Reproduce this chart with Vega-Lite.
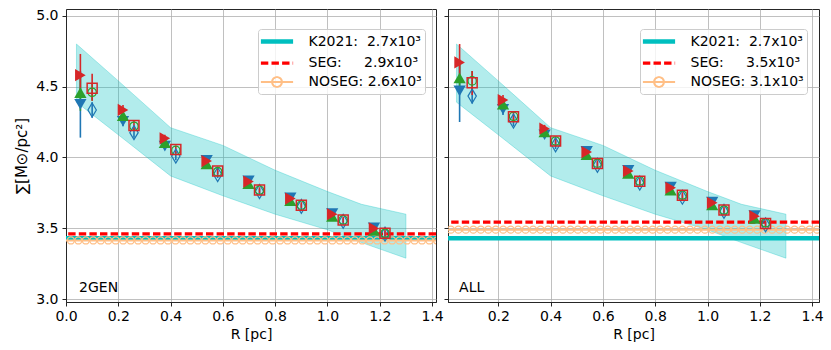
{
  "$schema": "https://vega.github.io/schema/vega-lite/v6.json",
  "background": "white",
  "padding": {"left": 14, "top": 8, "right": 5, "bottom": 5},
  "spacing": 12,
  "bounds": "flush",
  "config": {
    "font": "DejaVu Sans",
    "view": {"stroke": "#262626", "strokeWidth": 1},
    "axis": {
      "domainColor": "#262626", "domainWidth": 1, "tickColor": "#262626", "tickWidth": 1, "tickSize": 4,
      "labelColor": "#000000", "titleColor": "#000000", "labelFontSize": 14, "titleFontSize": 14,
      "titleFontWeight": "normal", "labelFont": "DejaVu Sans", "titleFont": "DejaVu Sans",
      "gridColor": "#b0b0b0", "gridWidth": 0.8, "labelFlush": false, "labelOverlap": false, "labelPadding": 3
    },
    "axisX": {"titlePadding": 4},
    "axisY": {"labelPadding": 4, "titlePadding": 6}
  },
  "datasets": {
    "band": [
      {"r": 0.04, "lo": 4.39, "hi": 4.80},
      {"r": 0.2, "lo": 4.16, "hi": 4.54},
      {"r": 0.4, "lo": 3.87, "hi": 4.21},
      {"r": 0.6, "lo": 3.73, "hi": 4.085},
      {"r": 0.8, "lo": 3.60, "hi": 3.91},
      {"r": 1.0, "lo": 3.49, "hi": 3.76},
      {"r": 1.13, "lo": 3.40, "hi": 3.67},
      {"r": 1.3, "lo": 3.29, "hi": 3.60}
    ],
    "lines": [
      {"p": "L", "s": "K2021:\u00a0\u00a02.7x10\u00b3", "y": 3.431},
      {"p": "L", "s": "SEG:\u00a0\u00a0\u00a0\u00a0\u00a02.9x10\u00b3", "y": 3.462},
      {"p": "L", "s": "NOSEG:\u00a02.6x10\u00b3", "y": 3.415},
      {"p": "R", "s": "K2021:\u00a0\u00a02.7x10\u00b3", "y": 3.431},
      {"p": "R", "s": "SEG:\u00a0\u00a0\u00a0\u00a0\u00a03.5x10\u00b3", "y": 3.544},
      {"p": "R", "s": "NOSEG:\u00a03.1x10\u00b3", "y": 3.491}
    ],
    "noseg": [
      {"p": "L", "y": 3.415, "xs": [0.0186,0.0472,0.0757,0.1043,0.1329,0.1615,0.19,0.2186,0.2472,0.2757,0.3043,0.3329,0.3615,0.39,0.4186,0.4472,0.4757,0.5043,0.5329,0.5615,0.59,0.6186,0.6472,0.6757,0.7043,0.7329,0.7615,0.79,0.8186,0.8472,0.8757,0.9043,0.9329,0.9615,0.99,1.0186,1.0472,1.0757,1.1043,1.1329,1.1615,1.19,1.2186,1.2472,1.2757,1.3043,1.3329,1.3615,1.39,1.4186]},
      {"p": "R", "y": 3.491, "xs": [0.0186,0.0472,0.0757,0.1043,0.1329,0.1615,0.19,0.2186,0.2472,0.2757,0.3043,0.3329,0.3615,0.39,0.4186,0.4472,0.4757,0.5043,0.5329,0.5615,0.59,0.6186,0.6472,0.6757,0.7043,0.7329,0.7615,0.79,0.8186,0.8472,0.8757,0.9043,0.9329,0.9615,0.99,1.0186,1.0472,1.0757,1.1043,1.1329,1.1615,1.19,1.2186,1.2472,1.2757,1.3043,1.3329,1.3615,1.39,1.4186]}
    ],
    "pts": [
      {"p":"L","k":"tb","x":0.055,"y":4.375,"lo":4.14,"hi":4.61},
      {"p":"L","k":"tg","x":0.055,"y":4.457,"lo":4.33,"hi":4.58},
      {"p":"L","k":"tr","x":0.055,"y":4.58,"lo":4.43,"hi":4.73},
      {"p":"L","k":"sd","x":0.1,"y":4.335,"lo":4.28,"hi":4.39},
      {"p":"L","k":"sc","x":0.1,"y":4.46,"lo":4.4,"hi":4.52},
      {"p":"L","k":"ss","x":0.1,"y":4.488,"lo":4.4,"hi":4.59},
      {"p":"L","k":"tb","x":0.218,"y":4.255,"lo":4.22,"hi":4.29},
      {"p":"L","k":"tg","x":0.218,"y":4.295},
      {"p":"L","k":"tr","x":0.218,"y":4.335,"lo":4.3,"hi":4.37},
      {"p":"L","k":"sd","x":0.26,"y":4.175,"lo":4.14,"hi":4.21},
      {"p":"L","k":"sc","x":0.26,"y":4.22},
      {"p":"L","k":"ss","x":0.26,"y":4.226,"lo":4.19,"hi":4.26},
      {"p":"L","k":"tb","x":0.378,"y":4.08,"lo":4.055,"hi":4.105},
      {"p":"L","k":"tg","x":0.378,"y":4.105},
      {"p":"L","k":"tr","x":0.378,"y":4.135,"lo":4.11,"hi":4.16},
      {"p":"L","k":"sd","x":0.42,"y":4.01,"lo":3.98,"hi":4.04},
      {"p":"L","k":"sc","x":0.42,"y":4.05},
      {"p":"L","k":"ss","x":0.42,"y":4.057,"lo":4.03,"hi":4.085},
      {"p":"L","k":"tb","x":0.538,"y":3.98},
      {"p":"L","k":"tg","x":0.538,"y":3.955},
      {"p":"L","k":"tr","x":0.538,"y":3.975,"lo":3.955,"hi":3.995},
      {"p":"L","k":"sd","x":0.58,"y":3.88,"lo":3.855,"hi":3.905},
      {"p":"L","k":"sc","x":0.58,"y":3.9},
      {"p":"L","k":"ss","x":0.58,"y":3.904,"lo":3.88,"hi":3.93},
      {"p":"L","k":"tb","x":0.698,"y":3.835},
      {"p":"L","k":"tg","x":0.698,"y":3.815},
      {"p":"L","k":"tr","x":0.698,"y":3.83,"lo":3.81,"hi":3.85},
      {"p":"L","k":"sd","x":0.74,"y":3.76,"lo":3.74,"hi":3.78},
      {"p":"L","k":"sc","x":0.74,"y":3.77},
      {"p":"L","k":"ss","x":0.74,"y":3.77,"lo":3.75,"hi":3.79},
      {"p":"L","k":"tb","x":0.858,"y":3.715},
      {"p":"L","k":"tg","x":0.858,"y":3.695},
      {"p":"L","k":"tr","x":0.858,"y":3.71},
      {"p":"L","k":"sd","x":0.9,"y":3.655,"lo":3.635,"hi":3.675},
      {"p":"L","k":"sc","x":0.9,"y":3.664},
      {"p":"L","k":"ss","x":0.9,"y":3.664,"lo":3.645,"hi":3.685},
      {"p":"L","k":"tb","x":1.018,"y":3.605},
      {"p":"L","k":"tg","x":1.018,"y":3.585},
      {"p":"L","k":"tr","x":1.018,"y":3.6},
      {"p":"L","k":"sd","x":1.06,"y":3.55,"lo":3.53,"hi":3.57},
      {"p":"L","k":"sc","x":1.06,"y":3.56},
      {"p":"L","k":"ss","x":1.06,"y":3.56,"lo":3.54,"hi":3.58},
      {"p":"L","k":"tb","x":1.178,"y":3.505},
      {"p":"L","k":"tg","x":1.178,"y":3.485},
      {"p":"L","k":"tr","x":1.178,"y":3.5},
      {"p":"L","k":"sd","x":1.22,"y":3.46,"lo":3.44,"hi":3.48},
      {"p":"L","k":"sc","x":1.22,"y":3.466},
      {"p":"L","k":"ss","x":1.22,"y":3.466,"lo":3.445,"hi":3.49},
      {"p":"R","k":"tb","x":0.052,"y":4.47,"lo":4.25,"hi":4.69},
      {"p":"R","k":"tg","x":0.052,"y":4.56,"lo":4.45,"hi":4.67},
      {"p":"R","k":"tr","x":0.052,"y":4.67,"lo":4.54,"hi":4.8},
      {"p":"R","k":"sd","x":0.1,"y":4.433,"lo":4.38,"hi":4.49},
      {"p":"R","k":"sc","x":0.1,"y":4.54,"lo":4.47,"hi":4.61},
      {"p":"R","k":"ss","x":0.1,"y":4.527,"lo":4.44,"hi":4.61},
      {"p":"R","k":"tb","x":0.218,"y":4.34,"lo":4.3,"hi":4.38},
      {"p":"R","k":"tg","x":0.218,"y":4.375},
      {"p":"R","k":"tr","x":0.218,"y":4.405,"lo":4.37,"hi":4.44},
      {"p":"R","k":"sd","x":0.258,"y":4.257,"lo":4.22,"hi":4.29},
      {"p":"R","k":"sc","x":0.258,"y":4.29},
      {"p":"R","k":"ss","x":0.258,"y":4.287,"lo":4.26,"hi":4.32},
      {"p":"R","k":"tb","x":0.377,"y":4.16},
      {"p":"R","k":"tg","x":0.377,"y":4.18},
      {"p":"R","k":"tr","x":0.377,"y":4.203,"lo":4.18,"hi":4.23},
      {"p":"R","k":"sd","x":0.419,"y":4.09,"lo":4.06,"hi":4.12},
      {"p":"R","k":"sc","x":0.419,"y":4.116},
      {"p":"R","k":"ss","x":0.419,"y":4.116,"lo":4.09,"hi":4.14},
      {"p":"R","k":"tb","x":0.538,"y":4.043},
      {"p":"R","k":"tg","x":0.538,"y":4.02},
      {"p":"R","k":"tr","x":0.538,"y":4.038},
      {"p":"R","k":"sd","x":0.579,"y":3.945,"lo":3.92,"hi":3.97},
      {"p":"R","k":"sc","x":0.579,"y":3.96},
      {"p":"R","k":"ss","x":0.579,"y":3.958,"lo":3.935,"hi":3.98},
      {"p":"R","k":"tb","x":0.697,"y":3.909},
      {"p":"R","k":"tg","x":0.697,"y":3.888},
      {"p":"R","k":"tr","x":0.697,"y":3.904},
      {"p":"R","k":"sd","x":0.741,"y":3.82,"lo":3.8,"hi":3.84},
      {"p":"R","k":"sc","x":0.741,"y":3.835},
      {"p":"R","k":"ss","x":0.741,"y":3.833,"lo":3.81,"hi":3.855},
      {"p":"R","k":"tb","x":0.859,"y":3.791},
      {"p":"R","k":"tg","x":0.859,"y":3.77},
      {"p":"R","k":"tr","x":0.859,"y":3.786},
      {"p":"R","k":"sd","x":0.904,"y":3.72,"lo":3.7,"hi":3.74},
      {"p":"R","k":"sc","x":0.904,"y":3.735},
      {"p":"R","k":"ss","x":0.904,"y":3.733,"lo":3.71,"hi":3.755},
      {"p":"R","k":"tb","x":1.018,"y":3.685},
      {"p":"R","k":"tg","x":1.018,"y":3.665},
      {"p":"R","k":"tr","x":1.018,"y":3.68},
      {"p":"R","k":"sd","x":1.063,"y":3.62,"lo":3.6,"hi":3.64},
      {"p":"R","k":"sc","x":1.063,"y":3.63},
      {"p":"R","k":"ss","x":1.063,"y":3.629,"lo":3.61,"hi":3.65},
      {"p":"R","k":"tb","x":1.18,"y":3.59},
      {"p":"R","k":"tg","x":1.18,"y":3.57},
      {"p":"R","k":"tr","x":1.18,"y":3.586},
      {"p":"R","k":"sd","x":1.222,"y":3.525,"lo":3.505,"hi":3.545},
      {"p":"R","k":"sc","x":1.222,"y":3.54},
      {"p":"R","k":"ss","x":1.222,"y":3.535,"lo":3.515,"hi":3.555}
    ]
  },
  "hconcat": [
    {
      "width": 370, "height": 293,
      "layer": [
        {"data": {"name": "band"},
         "mark": {"type": "area", "fill": "#00bfbf", "fillOpacity": 0.3, "stroke": "#00bfbf", "strokeOpacity": 0.3, "strokeWidth": 1, "clip": true},
         "encoding": {
           "x": {"field": "r", "type": "quantitative", "scale": {"domain": [0, 1.415], "nice": false, "zero": false},
                 "axis": {"values": [0, 0.2, 0.4, 0.6, 0.8, 1, 1.2, 1.4], "format": ".1f", "title": "R [pc]"}},
           "y": {"field": "hi", "type": "quantitative", "scale": {"domain": [2.981, 5.047], "nice": false, "zero": false},
                 "axis": {"values": [3, 3.5, 4, 4.5, 5], "format": ".1f", "title": "\u2211[M\u2299/pc\u00b2]", "titleFontSize": 15}},
           "y2": {"field": "lo"}}},
        {"data": {"name": "lines"}, "transform": [{"filter": "datum.p === 'L'"}],
         "mark": {"type": "rule", "clip": true},
         "encoding": {
           "y": {"field": "y", "type": "quantitative"},
           "color": {"field": "s", "type": "nominal",
             "scale": {"domain": ["K2021:\u00a0\u00a02.7x10\u00b3", "SEG:\u00a0\u00a0\u00a0\u00a0\u00a02.9x10\u00b3", "NOSEG:\u00a02.6x10\u00b3"], "range": ["#00bfbf", "#ff0000", "#ffbf86"]},
             "legend": {"title": null, "orient": "none", "legendX": 192, "legendY": 20, "direction": "vertical",
               "fillColor": "rgba(255,255,255,0.8)", "strokeColor": "#cccccc", "cornerRadius": 3, "padding": 3,
               "labelFont": "DejaVu Sans", "labelFontSize": 14, "labelColor": "#000000", "labelLimit": 0,
               "symbolSize": 196, "symbolOffset": 6.5, "labelOffset": 22, "rowPadding": 3,
               "encode": {"symbols": {"update": {"shape": {"signal": "datum.index === 2 ? 'M-2.3,0H2.3M0.7,0A0.7,0.7 0 1,1 -0.7,0A0.7,0.7 0 1,1 0.7,0' : 'M-2.3,0H2.3'"}, "fill": {"value": "transparent"}}}}}},
           "strokeDash": {"field": "s", "type": "nominal",
             "scale": {"domain": ["K2021:\u00a0\u00a02.7x10\u00b3", "SEG:\u00a0\u00a0\u00a0\u00a0\u00a02.9x10\u00b3", "NOSEG:\u00a02.6x10\u00b3"], "range": [[1, 0], [7.4, 3.2], [1, 0]]}},
           "strokeWidth": {"field": "s", "type": "ordinal",
             "scale": {"domain": ["K2021:\u00a0\u00a02.7x10\u00b3", "SEG:\u00a0\u00a0\u00a0\u00a0\u00a02.9x10\u00b3", "NOSEG:\u00a02.6x10\u00b3"], "range": [4.5, 2, 2]}}}},
        {"data": {"name": "noseg"}, "transform": [{"filter": "datum.p === 'L'"}, {"flatten": ["xs"]}],
         "mark": {"type": "point", "shape": "circle", "filled": false, "stroke": "#ffbf86", "strokeWidth": 1.3, "size": 49, "opacity": 1, "clip": true},
         "encoding": {"x": {"field": "xs", "type": "quantitative"}, "y": {"field": "y", "type": "quantitative"}}},
        {"data": {"name": "pts"}, "transform": [{"filter": "datum.p === 'L' && isValid(datum.lo)"}],
         "mark": {"type": "rule", "strokeWidth": 1.6, "clip": true},
         "encoding": {"x": {"field": "x", "type": "quantitative"}, "y": {"field": "lo", "type": "quantitative"}, "y2": {"field": "hi"},
           "stroke": {"field": "k", "type": "nominal", "scale": {"domain": ["tb", "tg", "tr", "sd", "sc", "ss"], "range": ["#1f77b4", "#2ca02c", "#d62728", "#1f77b4", "#2ca02c", "#d62728"]}, "legend": null}}},
        {"data": {"name": "pts"}, "transform": [{"filter": "datum.p === 'L' && datum.k === 'tb'"}],
         "mark": {"type": "point", "shape": "triangle-down", "filled": true, "color": "#1f77b4", "size": 150, "opacity": 1, "clip": true},
         "encoding": {"x": {"field": "x", "type": "quantitative"}, "y": {"field": "y", "type": "quantitative"}}},
        {"data": {"name": "pts"}, "transform": [{"filter": "datum.p === 'L' && datum.k === 'tg'"}],
         "mark": {"type": "point", "shape": "triangle-up", "filled": true, "color": "#2ca02c", "size": 150, "opacity": 1, "clip": true},
         "encoding": {"x": {"field": "x", "type": "quantitative"}, "y": {"field": "y", "type": "quantitative"}}},
        {"data": {"name": "pts"}, "transform": [{"filter": "datum.p === 'L' && datum.k === 'tr'"}],
         "mark": {"type": "point", "shape": "triangle-right", "filled": true, "color": "#d62728", "size": 150, "opacity": 1, "clip": true},
         "encoding": {"x": {"field": "x", "type": "quantitative"}, "y": {"field": "y", "type": "quantitative"}}},
        {"data": {"name": "pts"}, "transform": [{"filter": "datum.p === 'L' && datum.k === 'sd'"}],
         "mark": {"type": "point", "shape": "M0,-1L0.6,0L0,1L-0.6,0Z", "filled": false, "stroke": "#1f77b4", "strokeWidth": 1.2, "size": 196, "opacity": 1, "clip": true},
         "encoding": {"x": {"field": "x", "type": "quantitative"}, "y": {"field": "y", "type": "quantitative"}}},
        {"data": {"name": "pts"}, "transform": [{"filter": "datum.p === 'L' && datum.k === 'sc'"}],
         "mark": {"type": "point", "shape": "circle", "filled": false, "stroke": "#2ca02c", "strokeWidth": 1.3, "size": 70, "opacity": 1, "clip": true},
         "encoding": {"x": {"field": "x", "type": "quantitative"}, "y": {"field": "y", "type": "quantitative"}}},
        {"data": {"name": "pts"}, "transform": [{"filter": "datum.p === 'L' && datum.k === 'ss'"}],
         "mark": {"type": "point", "shape": "square", "filled": false, "stroke": "#d62728", "strokeWidth": 1.5, "size": 100, "opacity": 1, "clip": true},
         "encoding": {"x": {"field": "x", "type": "quantitative"}, "y": {"field": "y", "type": "quantitative"}}},
        {"data": {"values": [{"t": "2GEN"}]},
         "mark": {"type": "text", "align": "left", "baseline": "alphabetic", "fontSize": 14, "font": "DejaVu Sans", "color": "#000000"},
         "encoding": {"x": {"datum": 0.05, "type": "quantitative"}, "y": {"datum": 3.05, "type": "quantitative"}, "text": {"field": "t"}}}
      ]
    },
    {
      "width": 371, "height": 293,
      "layer": [
        {"data": {"name": "band"},
         "mark": {"type": "area", "fill": "#00bfbf", "fillOpacity": 0.3, "stroke": "#00bfbf", "strokeOpacity": 0.3, "strokeWidth": 1, "clip": true},
         "encoding": {
           "x": {"field": "r", "type": "quantitative", "scale": {"domain": [0.0076, 1.4264], "nice": false, "zero": false},
                 "axis": {"values": [0.2, 0.4, 0.6, 0.8, 1, 1.2, 1.4], "format": ".1f", "title": "R [pc]"}},
           "y": {"field": "hi", "type": "quantitative", "scale": {"domain": [2.981, 5.047], "nice": false, "zero": false},
                 "axis": {"values": [3, 3.5, 4, 4.5, 5], "labels": false, "title": null}},
           "y2": {"field": "lo"}}},
        {"data": {"name": "lines"}, "transform": [{"filter": "datum.p === 'R'"}],
         "mark": {"type": "rule", "clip": true},
         "encoding": {
           "y": {"field": "y", "type": "quantitative"},
           "color": {"field": "s", "type": "nominal",
             "scale": {"domain": ["K2021:\u00a0\u00a02.7x10\u00b3", "SEG:\u00a0\u00a0\u00a0\u00a0\u00a03.5x10\u00b3", "NOSEG:\u00a03.1x10\u00b3"], "range": ["#00bfbf", "#ff0000", "#ffbf86"]},
             "legend": {"title": null, "orient": "none", "legendX": 192, "legendY": 20, "direction": "vertical",
               "fillColor": "rgba(255,255,255,0.8)", "strokeColor": "#cccccc", "cornerRadius": 3, "padding": 3,
               "labelFont": "DejaVu Sans", "labelFontSize": 14, "labelColor": "#000000", "labelLimit": 0,
               "symbolSize": 196, "symbolOffset": 6.5, "labelOffset": 22, "rowPadding": 3,
               "encode": {"symbols": {"update": {"shape": {"signal": "datum.index === 2 ? 'M-2.3,0H2.3M0.7,0A0.7,0.7 0 1,1 -0.7,0A0.7,0.7 0 1,1 0.7,0' : 'M-2.3,0H2.3'"}, "fill": {"value": "transparent"}}}}}},
           "strokeDash": {"field": "s", "type": "nominal",
             "scale": {"domain": ["K2021:\u00a0\u00a02.7x10\u00b3", "SEG:\u00a0\u00a0\u00a0\u00a0\u00a03.5x10\u00b3", "NOSEG:\u00a03.1x10\u00b3"], "range": [[1, 0], [7.4, 3.2], [1, 0]]}},
           "strokeWidth": {"field": "s", "type": "ordinal",
             "scale": {"domain": ["K2021:\u00a0\u00a02.7x10\u00b3", "SEG:\u00a0\u00a0\u00a0\u00a0\u00a03.5x10\u00b3", "NOSEG:\u00a03.1x10\u00b3"], "range": [4.5, 2, 2]}}}},
        {"data": {"name": "noseg"}, "transform": [{"filter": "datum.p === 'R'"}, {"flatten": ["xs"]}],
         "mark": {"type": "point", "shape": "circle", "filled": false, "stroke": "#ffbf86", "strokeWidth": 1.3, "size": 49, "opacity": 1, "clip": true},
         "encoding": {"x": {"field": "xs", "type": "quantitative"}, "y": {"field": "y", "type": "quantitative"}}},
        {"data": {"name": "pts"}, "transform": [{"filter": "datum.p === 'R' && isValid(datum.lo)"}],
         "mark": {"type": "rule", "strokeWidth": 1.6, "clip": true},
         "encoding": {"x": {"field": "x", "type": "quantitative"}, "y": {"field": "lo", "type": "quantitative"}, "y2": {"field": "hi"},
           "stroke": {"field": "k", "type": "nominal", "scale": {"domain": ["tb", "tg", "tr", "sd", "sc", "ss"], "range": ["#1f77b4", "#2ca02c", "#d62728", "#1f77b4", "#2ca02c", "#d62728"]}, "legend": null}}},
        {"data": {"name": "pts"}, "transform": [{"filter": "datum.p === 'R' && datum.k === 'tb'"}],
         "mark": {"type": "point", "shape": "triangle-down", "filled": true, "color": "#1f77b4", "size": 150, "opacity": 1, "clip": true},
         "encoding": {"x": {"field": "x", "type": "quantitative"}, "y": {"field": "y", "type": "quantitative"}}},
        {"data": {"name": "pts"}, "transform": [{"filter": "datum.p === 'R' && datum.k === 'tg'"}],
         "mark": {"type": "point", "shape": "triangle-up", "filled": true, "color": "#2ca02c", "size": 150, "opacity": 1, "clip": true},
         "encoding": {"x": {"field": "x", "type": "quantitative"}, "y": {"field": "y", "type": "quantitative"}}},
        {"data": {"name": "pts"}, "transform": [{"filter": "datum.p === 'R' && datum.k === 'tr'"}],
         "mark": {"type": "point", "shape": "triangle-right", "filled": true, "color": "#d62728", "size": 150, "opacity": 1, "clip": true},
         "encoding": {"x": {"field": "x", "type": "quantitative"}, "y": {"field": "y", "type": "quantitative"}}},
        {"data": {"name": "pts"}, "transform": [{"filter": "datum.p === 'R' && datum.k === 'sd'"}],
         "mark": {"type": "point", "shape": "M0,-1L0.6,0L0,1L-0.6,0Z", "filled": false, "stroke": "#1f77b4", "strokeWidth": 1.2, "size": 196, "opacity": 1, "clip": true},
         "encoding": {"x": {"field": "x", "type": "quantitative"}, "y": {"field": "y", "type": "quantitative"}}},
        {"data": {"name": "pts"}, "transform": [{"filter": "datum.p === 'R' && datum.k === 'sc'"}],
         "mark": {"type": "point", "shape": "circle", "filled": false, "stroke": "#2ca02c", "strokeWidth": 1.3, "size": 70, "opacity": 1, "clip": true},
         "encoding": {"x": {"field": "x", "type": "quantitative"}, "y": {"field": "y", "type": "quantitative"}}},
        {"data": {"name": "pts"}, "transform": [{"filter": "datum.p === 'R' && datum.k === 'ss'"}],
         "mark": {"type": "point", "shape": "square", "filled": false, "stroke": "#d62728", "strokeWidth": 1.5, "size": 100, "opacity": 1, "clip": true},
         "encoding": {"x": {"field": "x", "type": "quantitative"}, "y": {"field": "y", "type": "quantitative"}}},
        {"data": {"values": [{"t": "ALL"}]},
         "mark": {"type": "text", "align": "left", "baseline": "alphabetic", "fontSize": 14, "font": "DejaVu Sans", "color": "#000000"},
         "encoding": {"x": {"datum": 0.05, "type": "quantitative"}, "y": {"datum": 3.05, "type": "quantitative"}, "text": {"field": "t"}}}
      ]
    }
  ],
  "resolve": {
    "scale": {"x": "independent", "y": "independent", "color": "independent", "strokeDash": "independent", "strokeWidth": "independent", "stroke": "independent"},
    "legend": {"color": "independent", "strokeDash": "independent", "strokeWidth": "independent"}
  }
}
